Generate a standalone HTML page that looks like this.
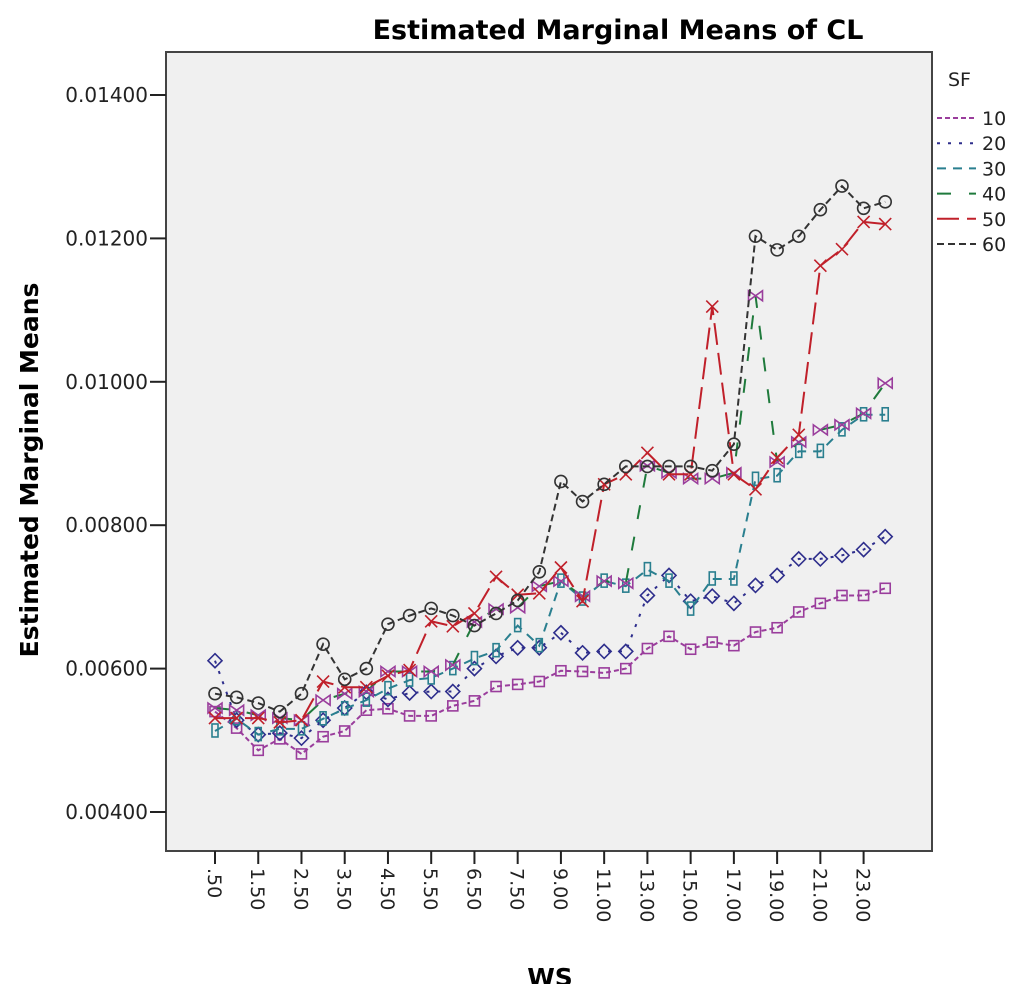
<!DOCTYPE html>
<html><head><meta charset="utf-8"><style>
body{margin:0;background:#fff;}
svg{display:block;font-family:"DejaVu Sans","Liberation Sans",sans-serif;}
</style></head><body>
<svg id="chart" width="1024" height="984">
<rect x="166" y="52" width="766" height="799" fill="#f0f0f0" stroke="#444" stroke-width="2"/>
<text x="618" y="39" font-size="27" font-weight="bold" text-anchor="middle">Estimated Marginal Means of CL</text>
<text transform="translate(38,470) rotate(-90)" font-size="25" font-weight="bold" text-anchor="middle">Estimated Marginal Means</text>
<text x="550" y="986" font-size="25" font-weight="bold" text-anchor="middle">WS</text>
<g id="yaxis"></g><g id="xaxis"></g><g id="series"></g><g id="legend"></g>
</svg>
<script>
const categories=[".50","1.00","1.50","2.00","2.50","3.00","3.50","4.00","4.50","5.00","5.50","6.00","6.50","7.00","7.50","8.00","9.00","10.00","11.00","12.00","13.00","14.00","15.00","16.00","17.00","18.00","19.00","20.00","21.00","22.00","23.00","24.00"];
const yTicks=[0.004,0.006,0.008,0.010,0.012,0.014];
const yTickLabels=["0.00400","0.00600","0.00800","0.01000","0.01200","0.01400"];
const seriesNames=["10","20","30","40","50","60"];
const s10=[0.00540,0.00517,0.00486,0.00502,0.00481,0.00505,0.00513,0.00542,0.00544,0.00534,0.00534,0.00548,0.00555,0.00575,0.00578,0.00582,0.00597,0.00596,0.00594,0.00600,0.00628,0.00645,0.00627,0.00637,0.00632,0.00651,0.00657,0.00679,0.00691,0.00702,0.00702,0.00712];
const s20=[0.00611,0.00528,0.00508,0.00510,0.00503,0.00528,0.00545,0.00567,0.00557,0.00566,0.00568,0.00568,0.00600,0.00617,0.00629,0.00629,0.00650,0.00622,0.00624,0.00624,0.00702,0.00730,0.00694,0.00701,0.00691,0.00716,0.00730,0.00753,0.00753,0.00758,0.00766,0.00784];
const s30=[0.00513,0.00530,0.00508,0.00516,0.00516,0.00530,0.00544,0.00556,0.00572,0.00584,0.00587,0.00600,0.00614,0.00625,0.00660,0.00632,0.00722,0.00697,0.00722,0.00715,0.00738,0.00722,0.00683,0.00725,0.00725,0.00864,0.00869,0.00903,0.00903,0.00933,0.00954,0.00954];
const s40=[0.00545,0.00542,0.00535,0.00531,0.00528,0.00556,0.00565,0.00568,0.00596,0.00596,0.00596,0.00605,0.00665,0.00683,0.00685,0.00715,0.00722,0.00701,0.00722,0.00719,0.00883,0.00873,0.00865,0.00865,0.00873,0.01120,0.00888,0.00916,0.00933,0.00940,0.00956,0.00998];
const s50=[0.00531,0.00531,0.00531,0.00525,0.00528,0.00582,0.00574,0.00574,0.00590,0.00598,0.00666,0.00659,0.00677,0.00728,0.00703,0.00705,0.00741,0.00694,0.00857,0.00871,0.00901,0.00871,0.00871,0.01105,0.00871,0.00850,0.00894,0.00926,0.01162,0.01185,0.01223,0.01220];
const s60=[0.00565,0.00560,0.00552,0.00540,0.00565,0.00634,0.00585,0.00600,0.00662,0.00674,0.00684,0.00674,0.00660,0.00677,0.00695,0.00735,0.00861,0.00833,0.00857,0.00882,0.00882,0.00882,0.00882,0.00876,0.00913,0.01203,0.01184,0.01203,0.01240,0.01273,0.01242,0.01251];
const allSeries=[s10,s20,s30,s40,s50,s60];
const lineColors=["#9a3d9c","#2e2e8c","#2a7f8f","#1f7a3c","#c0202a","#333333"];
const markerColors=["#9a3d9c","#2e2e8c","#2a7f8f","#9a3d9c","#c0202a","#333333"];
const dashes=["5,3","3,8","9,7","14,18","22,8","7,4"];
const markers=["square","diamond","rect","bowtie","x","circle"];
const NS="http://www.w3.org/2000/svg";
function xPos(i){return 215+i*21.62;}
function yPos(v){return 812-(v-0.004)/0.002*143.4;}
function mk(tag,attrs,parent){const e=document.createElementNS(NS,tag);for(const k in attrs)e.setAttribute(k,attrs[k]);parent.appendChild(e);return e;}
const ya=document.getElementById('yaxis');
yTicks.forEach((t,i)=>{
  const l=mk('line',{x1:150,x2:166,y1:yPos(t),y2:yPos(t),stroke:'#222','stroke-width':2},ya);
  
  
  const tx=mk('text',{x:148,y:yPos(t)+7,'font-size':20,'text-anchor':'end',fill:'#222'},ya);
  tx.textContent=yTickLabels[i];
  
  
});
const xa=document.getElementById('xaxis');
categories.forEach((c,i)=>{
  if(i%2)return;
  const x=xPos(i);
  const l=mk('line',{x1:x,x2:x,y1:851,y2:864,stroke:'#222','stroke-width':2},xa);
  
  
  const tx=mk('text',{transform:`translate(${x-7},868) rotate(90)`,'font-size':19,fill:'#222'},xa);
  tx.textContent=c;
  
  
});
function marker(g,type,x,y,col){
  const a={fill:'none',stroke:col,'stroke-width':1.6};
  let e;
  if(type==='square')e=mk('rect',Object.assign({x:x-5,y:y-5,width:10,height:10},a),g);
  else if(type==='diamond')e=mk('path',Object.assign({d:`M${x},${y-7}L${x+7},${y}L${x},${y+7}L${x-7},${y}Z`},a),g);
  else if(type==='rect')e=mk('rect',Object.assign({x:x-3,y:y-7,width:6,height:13},a),g);
  else if(type==='bowtie')e=mk('path',Object.assign({d:`M${x-7},${y-5}L${x+7},${y+5}L${x+7},${y-5}L${x-7},${y+5}Z`},a),g);
  else if(type==='x')e=mk('path',Object.assign({d:`M${x-6},${y-6}L${x+6},${y+6}M${x+6},${y-6}L${x-6},${y+6}`},a),g);
  else e=mk('circle',Object.assign({cx:x,cy:y,r:6},a),g);
  
  
}
const sg=document.getElementById('series');
allSeries.forEach((vals,s)=>{
  const g=mk('g',{},sg);
  
  
  const pts=vals.map((v,i)=>xPos(i)+','+yPos(v)).join(' ');
  const pl=mk('polyline',{points:pts,fill:'none',stroke:lineColors[s],'stroke-width':2,'stroke-dasharray':dashes[s]},g);
  
  
  vals.forEach((v,i)=>marker(g,markers[s],xPos(i),yPos(v),markerColors[s]));
});
const lg=document.getElementById('legend');
const lt=mk('text',{x:948,y:86,'font-size':19,fill:'#222'},lg);
lt.textContent='SF';


seriesNames.forEach((n,s)=>{
  const y=118+s*25.2;
  const g=mk('g',{},lg);
  
  
  mk('line',{x1:937,x2:976,y1:y,y2:y,stroke:lineColors[s],'stroke-width':2,'stroke-dasharray':dashes[s]},g);
  const t=mk('text',{x:982,y:y+7,'font-size':19,fill:'#222'},g);
  t.textContent=n;
});
</script>
</body></html>
